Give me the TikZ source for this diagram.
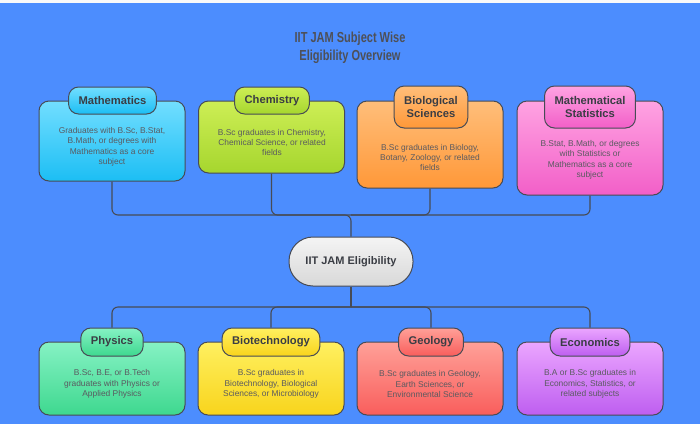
\documentclass[tikz,border=0pt]{standalone}
\usepackage{fontspec}
\setmainfont{Liberation Sans}
\definecolor{bg}{HTML}{4C8DFE}
\definecolor{lineC}{HTML}{474B55}
\definecolor{headT}{HTML}{3A3D44}
\definecolor{bodyT}{HTML}{5A5A60}
\definecolor{mathT}{HTML}{72DEFF}\definecolor{mathB}{HTML}{1CBEF4}
\definecolor{chemT}{HTML}{CDEE55}\definecolor{chemB}{HTML}{A6D62E}
\definecolor{bioT}{HTML}{FFBE7A}\definecolor{bioB}{HTML}{FF9838}
\definecolor{statT}{HTML}{FFA3E2}\definecolor{statB}{HTML}{F25FC8}
\definecolor{phyT}{HTML}{86F2C4}\definecolor{phyB}{HTML}{3ED88F}
\definecolor{btT}{HTML}{FFF060}\definecolor{btB}{HTML}{F8D41C}
\definecolor{geoT}{HTML}{FFA098}\definecolor{geoB}{HTML}{F95E5C}
\definecolor{ecoT}{HTML}{EBA6FF}\definecolor{ecoB}{HTML}{BE5EF0}
\definecolor{jamT}{HTML}{F4F4F4}\definecolor{jamB}{HTML}{D8D8D8}
\tikzset{
  bodybox/.style={draw=lineC, line width=1pt, rounded corners=10pt, minimum width=146pt, inner sep=0pt},
  headbox/.style={draw=lineC, line width=1pt, rounded corners=10pt, font=\fontsize{11.2}{13.5}\selectfont\bfseries, text=headT, inner xsep=10pt, inner ysep=0pt, minimum height=27pt, align=center},
  bodytxt/.style={font=\fontsize{8.4}{10.4}\selectfont, text=bodyT, align=center, inner sep=0pt},
  conn/.style={draw=lineC, line width=1.1pt, rounded corners=6pt},
  titletxt/.style={font=\fontsize{14.5}{18}\selectfont\bfseries, text=headT!90!white, align=center},
}
\begin{document}
\begin{tikzpicture}[x=1pt,y=-1pt]
\useasboundingbox (0,0) rectangle (700,424);
\fill[bg] (0,0) rectangle (700,424);
\fill[white!95!gray] (0,0) rectangle (700,2.5);

\node[titletxt] (title) at (350,48) {\scalebox{0.76}[1]{IIT JAM Subject Wise}\\ \scalebox{0.76}[1]{Eligibility Overview}};

% central node
\node[draw=lineC, line width=1pt, rounded corners=24pt, top color=jamT, bottom color=jamB, minimum width=124pt, minimum height=49pt, font=\fontsize{11}{13}\selectfont\bfseries, text=headT] (jam) at (351,261.5) {IIT JAM Eligibility};

\coordinate (jt) at (351,215);
\coordinate (jb) at (351,307);

% top boxes
\node[bodybox, minimum height=80pt, top color=mathT, bottom color=mathB] (mathBox) at (112,141) {};
\node[bodybox, minimum height=72pt, top color=chemT, bottom color=chemB] (chemBox) at (271.5,137) {};
\node[bodybox, minimum height=87pt, top color=bioT, bottom color=bioB] (bioBox) at (430,144.5) {};
\node[bodybox, minimum height=94pt, top color=statT, bottom color=statB] (statBox) at (590,148) {};

% bottom boxes
\node[bodybox, minimum height=73pt, top color=phyT, bottom color=phyB] (phyBox) at (112,378.5) {};
\node[bodybox, minimum height=73pt, top color=btT, bottom color=btB] (btBox) at (271,378.5) {};
\node[bodybox, minimum height=73pt, top color=geoT, bottom color=geoB] (geoBox) at (430,378.5) {};
\node[bodybox, minimum height=73pt, top color=ecoT, bottom color=ecoB] (ecoBox) at (590,378.5) {};

% headers
\node[headbox, top color=mathT, bottom color=mathB] (mathH) at (112.5,100.5) {Mathematics};
\node[headbox, top color=chemT, bottom color=chemB] (chemH) at (272,100.5) {Chemistry};
\node[headbox, minimum height=42pt, top color=bioT, bottom color=bioB] (bioH) at (431,107) {Biological\\Sciences};
\node[headbox, minimum height=42pt, top color=statT, bottom color=statB] (statH) at (590,107) {Mathematical\\Statistics};
\node[headbox, minimum height=28pt, top color=phyT, bottom color=phyB] (phyH) at (112,342) {Physics};
\node[headbox, minimum height=28pt, top color=btT, bottom color=btB] (btH) at (271,342) {Biotechnology};
\node[headbox, minimum height=28pt, top color=geoT, bottom color=geoB] (geoH) at (431,342) {Geology};
\node[headbox, minimum height=28pt, top color=ecoT, bottom color=ecoB] (ecoH) at (590,342) {Economics};

% connectors
\draw[conn] (mathBox.south) |- (jt) -- (jam.north);
\draw[conn] (chemBox.south) |- (jt);
\draw[conn] (bioBox.south) |- (jt);
\draw[conn] (statBox.south) |- (jt);
\draw[conn] (jam.south) -- (jb);
\draw[conn] (jb) -| (phyH.north);
\draw[conn] (jb) -| (btH.north);
\draw[conn] (jb) -| (geoH.north);
\draw[conn] (jb) -| (ecoH.north);

% body texts
\node[bodytxt] (mathTx) at (112,147) {Graduates with B.Sc, B.Stat,\\B.Math, or degrees with\\Mathematics as a core\\subject};
\node[bodytxt] (chemTx) at (272,142.5) {B.Sc graduates in Chemistry,\\Chemical Science, or related\\fields};
\node[bodytxt] (bioTx) at (430,157.5) {B.Sc graduates in Biology,\\Botany, Zoology, or related\\fields};
\node[bodytxt] (statTx) at (590,160) {B.Stat, B.Math, or degrees\\with Statistics or\\Mathematics as a core\\subject};
\node[bodytxt] (phyTx) at (112,384) {B.Sc, B.E, or B.Tech\\graduates with Physics or\\Applied Physics};
\node[bodytxt] (btTx) at (271,384) {B.Sc graduates in\\Biotechnology, Biological\\Sciences, or Microbiology};
\node[bodytxt] (geoTx) at (430,384) {B.Sc graduates in Geology,\\Earth Sciences, or\\Environmental Science};
\node[bodytxt] (ecoTx) at (590,384) {B.A or B.Sc graduates in\\Economics, Statistics, or\\related subjects};
\end{tikzpicture}
\end{document}
